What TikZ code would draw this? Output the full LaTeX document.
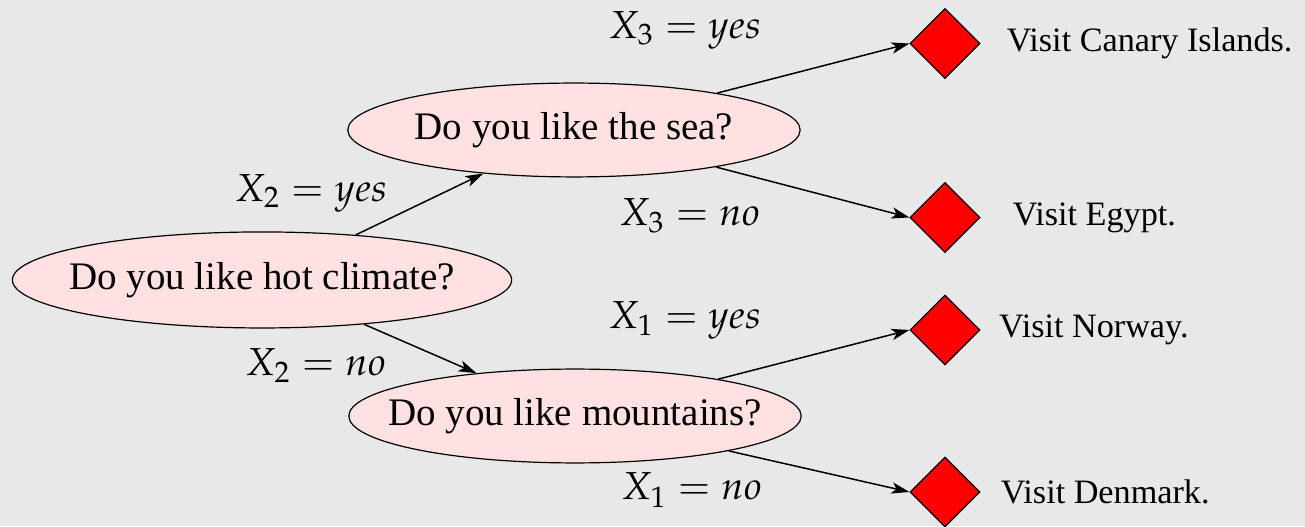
\documentclass[tikz,border=0pt]{standalone}
\usepackage{mathpazo}
\usepackage[no-math]{fontspec}
\setmainfont{Liberation Serif}
\newfontfamily\timesfont{Liberation Serif}
\usetikzlibrary{positioning, arrows.meta, shapes.geometric}
\definecolor{paper}{HTML}{E8E8E8}
\definecolor{qfill}{HTML}{FFE1E1}
\definecolor{leafred}{HTML}{FF0000}
\tikzset{
  question/.style={
    ellipse,
    draw=black,
    thin,
    fill=qfill,
    inner xsep=-3cm,
    minimum height=1.1cm,
    minimum width=#1,
    font=\timesfont\fontsize{13}{15.6}\selectfont
  },
  leaf/.style={
    diamond,
    draw=black,
    thin,
    fill=leafred,
    minimum size=0.82cm,
    inner sep=0pt
  },
  leaf text/.style={inner sep=0pt, font=\timesfont\fontsize{11.4}{13.7}\selectfont},
  cond/.style={font=\fontsize{13}{15.6}\selectfont},
  dec arrow/.style={
    -{Stealth[length=6pt, width=3.8pt, inset=1.6pt]},
    line width=0.5pt
  }
}

\begin{document}
\begin{tikzpicture}
  % Background
  \fill[paper] (0,0) rectangle (15.29,-6.163);
  \useasboundingbox (0,0) rectangle (15.29,-6.163);

  % Questions
  \node[question=5.85cm, minimum height=1.125cm] (hot) at (3.070,-3.280) {Do you like hot climate?};
  \node[question=5.3cm] (sea) at (6.725,-1.523) {Do you like the sea?};
  \node[question=5.3cm] (mount) at (6.737,-4.874) {Do you like mountains?};

  % Decisions
  \node[leaf] (canary) at (11.072,-0.510) {};
  \node[leaf] (egypt) at (11.072,-2.548) {};
  \node[leaf] (norway) at (11.072,-3.866) {};
  \node[leaf] (denmark) at (11.072,-5.764) {};
  \node[leaf text, right=3.0mm of canary] (canarytxt) {Visit Canary Islands.};
  \node[leaf text, right=3.7mm of egypt] (egypttxt) {Visit Egypt.};
  \node[leaf text, right=2.1mm of norway] (norwaytxt) {Visit Norway.};
  \node[leaf text, right=2.3mm of denmark] (denmarktxt) {Visit Denmark.};

  % Conditions
  \node[cond] (x2yes) at (3.644,-2.261) {$X_2 = yes$};
  \node[cond] (x2no) at (3.702,-4.288) {$X_2 = no$};
  \node[cond] (x3yes) at (8.025,-0.351) {$X_3 = yes$};
  \node[cond] (x3no) at (8.084,-2.531) {$X_3 = no$};
  \node[cond] (x1yes) at (8.025,-3.749) {$X_1 = yes$};
  \node[cond] (x1no) at (8.107,-5.741) {$X_1 = no$};

  % Branches
  \draw[dec arrow] (hot) -- (sea);
  \draw[dec arrow] (hot) -- (mount);
  \draw[dec arrow] (sea) -- (canary.west);
  \draw[dec arrow] (sea) -- (egypt.west);
  \draw[dec arrow] (mount) -- (norway.west);
  \draw[dec arrow] (mount) -- (denmark.west);
\end{tikzpicture}
\end{document}
